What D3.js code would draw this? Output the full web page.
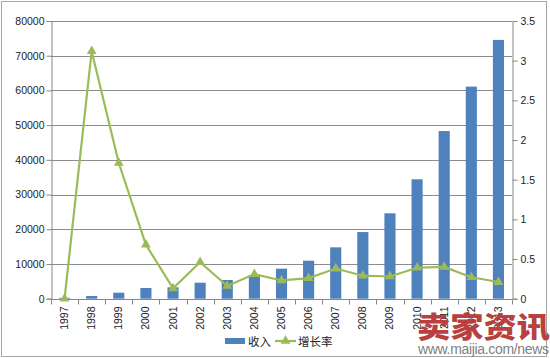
<!DOCTYPE html>
<html><head><meta charset="utf-8">
<script src="https://cdn.jsdelivr.net/npm/d3@7"></script>
<style>body{margin:0;background:#fff}svg{display:block}</style>
</head><body>
<svg id="c" width="550" height="358"></svg>
<script>
const years = ["1997","1998","1999","2000","2001","2002","2003","2004","2005","2006","2007","2008","2009","2010","2011","2012","2013"];
const revenue = [250,780,1730,3080,3280,4610,5390,6830,8650,10950,14800,19200,24600,34400,48300,61100,74550];
const growth = [0,3.12,1.71,0.68,0.13,0.46,0.16,0.31,0.23,0.26,0.38,0.29,0.28,0.39,0.40,0.27,0.21];
const leftTicks = [0,10000,20000,30000,40000,50000,60000,70000,80000];
const rightTicks = [0,0.5,1,1.5,2,2.5,3,3.5];
const legendLabels = ["收入","增长率"];

const svg = d3.select("#c");
const L=51,R=512,T=21,B=298.7;
const font = "'Liberation Sans', Arial, sans-serif";
const cjk = "'Noto Sans CJK SC', sans-serif";
const axisCol = "#868686";

svg.append("rect").attr("x",1.5).attr("y",1.5).attr("width",545).attr("height",355)
  .attr("fill","#fff").attr("stroke","#a6a6a6").attr("stroke-width",1);

const x = d3.scaleBand().domain(years).range([L,R]).paddingInner(0.59).paddingOuter(0.295);
const xb = d3.scaleBand().domain(years).range([L,R]);
const yL = d3.scaleLinear().domain([0,80000]).range([B,T]);
const yR = d3.scaleLinear().domain([0,3.5]).range([B,T]);

// grid
svg.append("g").selectAll("line").data(leftTicks.slice(1)).join("line")
  .attr("x1",L).attr("x2",R).attr("y1",d=>Math.round(yL(d))+0.5).attr("y2",d=>Math.round(yL(d))+0.5)
  .attr("stroke","#8c8c8c").attr("stroke-width",1);

// bars
svg.append("g").selectAll("rect").data(years).join("rect")
  .attr("x",d=>x(d)).attr("width",x.bandwidth())
  .attr("y",(d,i)=>yL(revenue[i])).attr("height",(d,i)=>B-yL(revenue[i]))
  .attr("fill","#4f81bd");

// left axis
const gl = svg.append("g").attr("transform",`translate(${L+0.5},0)`)
  .call(d3.axisLeft(yL).tickValues(leftTicks).tickSize(5).tickPadding(2).tickFormat(d3.format("d")));
gl.select(".domain").attr("stroke",axisCol);
gl.selectAll(".tick line").attr("stroke",axisCol);
gl.selectAll("text").attr("font-family",font).attr("font-size",10.5).attr("fill","#222");

// right axis
const gr = svg.append("g").attr("transform",`translate(${R+0.5},0)`)
  .call(d3.axisRight(yR).tickValues(rightTicks).tickSize(5).tickPadding(3).tickFormat(d=>d3.format("~g")(d)));
gr.select(".domain").attr("stroke",axisCol);
gr.selectAll(".tick line").attr("stroke",axisCol);
gr.selectAll("text").attr("font-family",font).attr("font-size",10.5).attr("fill","#222");

// bottom axis
const gb = svg.append("g").attr("transform",`translate(0,${Math.round(B)+0.5})`);
gb.append("line").attr("x1",L).attr("x2",R).attr("stroke",axisCol);
gb.selectAll("line.t").data(years.concat(["end"])).join("line").attr("class","t")
  .attr("x1",(d,i)=>Math.round(L+i*xb.bandwidth())+0.5).attr("x2",(d,i)=>Math.round(L+i*xb.bandwidth())+0.5)
  .attr("y1",0).attr("y2",5).attr("stroke",axisCol);
gb.selectAll("text").data(years).join("text")
  .attr("transform",d=>`translate(${xb(d)+xb.bandwidth()/2+3.5},7) rotate(-90)`)
  .attr("text-anchor","end").attr("font-family",font).attr("font-size",10.5).attr("fill","#222")
  .text(d=>d);

// line
const green="#9bbb59";
const line = d3.line().x((d,i)=>xb(years[i])+xb.bandwidth()/2).y(d=>yR(d));
svg.append("path").datum(growth).attr("d",line).attr("fill","none").attr("stroke",green).attr("stroke-width",2.2);
const tri = d3.symbol().type(d3.symbolTriangle).size(42);
svg.append("g").selectAll("path").data(growth).join("path")
  .attr("transform",(d,i)=>`translate(${xb(years[i])+xb.bandwidth()/2},${yR(d)})`)
  .attr("d",tri).attr("fill",green);

// legend
const lg = svg.append("g");
lg.append("rect").attr("x",225).attr("y",338).attr("width",20).attr("height",6).attr("fill","#4f81bd");
lg.append("text").attr("x",248).attr("y",345.5).attr("font-family",cjk).attr("font-size",11.5).attr("fill","#222").text(legendLabels[0]);
lg.append("line").attr("x1",275).attr("x2",296).attr("y1",341).attr("y2",341).attr("stroke",green).attr("stroke-width",2.2);
lg.append("path").attr("transform","translate(285.5,341)").attr("d",tri).attr("fill",green);
lg.append("text").attr("x",298).attr("y",345.5).attr("font-family",cjk).attr("font-size",11.5).attr("fill","#222").text(legendLabels[1]);

// watermark
svg.append("text").attr("x",417).attr("y",338).attr("font-family",cjk).attr("font-weight",900)
  .attr("font-size",29).attr("fill","#b8413f").attr("textLength",133).attr("lengthAdjust","spacingAndGlyphs").text("卖家资讯");
svg.append("text").attr("x",418).attr("y",354).attr("font-family",font)
  .attr("font-size",14).attr("fill","#7f7f7f").attr("textLength",131).text("www.maijia.com/news");
</script>
</body></html>
